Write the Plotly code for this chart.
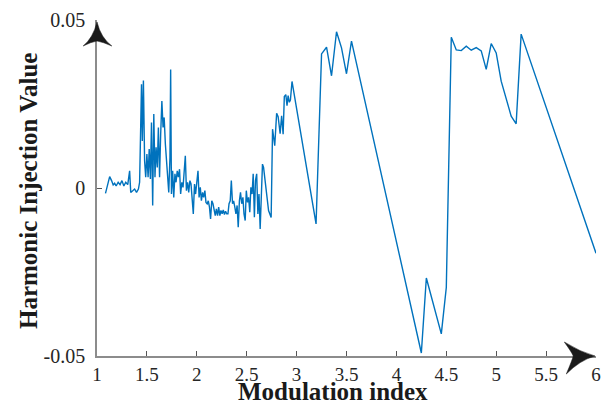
import plotly.graph_objects as go

# Modulation index sweep and the resulting harmonic injection value
modulation_index = [
    1.085, 1.100, 1.127, 1.146, 1.162, 1.177, 1.192, 1.212, 1.231, 1.250,
    1.269, 1.288, 1.308, 1.327, 1.338, 1.358, 1.377, 1.396, 1.415, 1.427,
    1.438, 1.446, 1.454, 1.465, 1.477, 1.488, 1.500, 1.512, 1.523, 1.535,
    1.546, 1.558, 1.569, 1.581, 1.592, 1.604, 1.615, 1.627, 1.638, 1.650,
    1.662, 1.673, 1.685, 1.696, 1.708, 1.719, 1.731, 1.738, 1.746, 1.758,
    1.769, 1.781, 1.792, 1.804, 1.815, 1.827, 1.838, 1.850, 1.862, 1.873,
    1.885, 1.896, 1.908, 1.919, 1.931, 1.942, 1.954, 1.965, 1.977, 1.988,
    2.000, 2.012, 2.023, 2.035, 2.046, 2.058, 2.069, 2.081, 2.092, 2.104,
    2.115, 2.127, 2.138, 2.150, 2.162, 2.173, 2.185, 2.196, 2.208, 2.219,
    2.231, 2.242, 2.254, 2.265, 2.277, 2.288, 2.300, 2.312, 2.323, 2.335,
    2.346, 2.358, 2.369, 2.381, 2.392, 2.404, 2.415, 2.427, 2.438, 2.450,
    2.462, 2.473, 2.485, 2.496, 2.508, 2.519, 2.531, 2.542, 2.554, 2.565,
    2.577, 2.588, 2.600, 2.612, 2.623, 2.635, 2.646, 2.658, 2.669, 2.692,
    2.719, 2.745, 2.759, 2.781, 2.800, 2.815, 2.835, 2.850, 2.865, 2.877,
    2.892, 2.904, 2.915, 2.927, 2.938, 2.954,
    3.195, 3.250, 3.300, 3.350, 3.400, 3.450, 3.500, 3.550,
    4.250, 4.300, 4.450, 4.500, 4.550, 4.600, 4.650, 4.700, 4.750, 4.800,
    4.850, 4.900, 4.950, 5.000, 5.050, 5.150, 5.200, 5.250, 6.000,
]

injection_value = [
    -0.0016, 0.0002, 0.0034, 0.0022, 0.0009, 0.0014, 0.0006, 0.0017, 0.0010, 0.0022,
    0.0006, 0.0017, 0.0010, 0.0051, -0.0013, -0.0008, -0.0003, -0.0013, -0.0003, 0.0017,
    0.0249, 0.0309, 0.0140, 0.0320, 0.0081, 0.0032, 0.0101, 0.0032, 0.0116, 0.0027,
    0.0195, -0.0052, 0.0220, 0.0032, 0.0121, 0.0061, 0.0180, 0.0032, 0.0160, 0.0259,
    0.0180, 0.0210, 0.0131, 0.0081, 0.0022, -0.0013, 0.0091, 0.0353, -0.0018, 0.0051,
    -0.0028, 0.0042, 0.0017, 0.0051, 0.0032, 0.0056, -0.0018, 0.0017, 0.0002, 0.0042,
    0.0096, -0.0008, 0.0017, -0.0013, 0.0022, 0.0012, -0.0028, -0.0077, 0.0012, -0.0018,
    0.0017, 0.0051, -0.0028, 0.0002, -0.0038, -0.0013, -0.0028, -0.0008, -0.0043, -0.0047,
    -0.0038, -0.0057, -0.0092, -0.0038, -0.0047, -0.0067, -0.0082, -0.0062, -0.0082, -0.0057,
    -0.0082, -0.0067, -0.0077, -0.0065, -0.0079, -0.0069, -0.0077, -0.0077, -0.0047, -0.0038,
    0.0022, -0.0047, -0.0038, -0.0057, -0.0077, -0.0052, -0.0117, -0.0038, -0.0013, -0.0047,
    -0.0028, -0.0077, -0.0097, -0.0008, -0.0043, -0.0028, -0.0072, 0.0002, -0.0018, 0.0042,
    -0.0087, 0.0022, 0.0042, -0.0077, -0.0018, -0.0122, 0.0002, 0.0071, 0.0061, 0.0002,
    -0.0067, -0.0088, 0.0175, 0.0126, 0.0222, 0.0212, 0.0162, 0.0215, 0.0160, 0.0272,
    0.0278, 0.0245, 0.0275, 0.0255, 0.0262, 0.0317,
    -0.0107, 0.0399, 0.0419, 0.0334, 0.0465, 0.0417, 0.0340, 0.0437,
    -0.0491, -0.0268, -0.0434, -0.0296, 0.0449, 0.0411, 0.0409, 0.0422, 0.0410, 0.0418,
    0.0408, 0.0353, 0.0430, 0.0402, 0.0318, 0.0214, 0.0191, 0.0458, -0.0194,
]

x_tick_values = [1, 1.5, 2, 2.5, 3, 3.5, 4, 4.5, 5, 5.5, 6]
x_tick_labels = ["1", "1.5", "2", "2.5", "3", "3.5", "4", "4.5", "5", "5.5", "6"]
y_tick_values = [-0.05, 0, 0.05]
y_tick_labels = ["-0.05", "0", "0.05"]

SERIF = "Liberation Serif, Times New Roman, serif"
AXIS_GREY = "#8c8c8c"

fig = go.Figure()
fig.add_trace(go.Scatter(
    x=modulation_index, y=injection_value, mode="lines",
    line=dict(color="#0072BD", width=1.4), showlegend=False,
))

# plot area size in pixels, used to convert arrowhead offsets to paper units
W, H = 504, 336
def px(dx):
    return dx / W
def py(dy):
    return dy / H

# arrowhead on the y axis (pointing up), concave sides and a shallow notch
y_arrow = (
    f"M 0 {1 - py(2)} "
    f"Q {px(-4)} {1 - py(18)} {px(-14)} {1 - py(26)} "
    f"Q {px(-6)} {1 - py(22)} 0 {1 - py(21)} "
    f"Q {px(6)} {1 - py(22)} {px(15)} {1 - py(26)} "
    f"Q {px(4)} {1 - py(18)} 0 {1 - py(2)} Z"
)

# arrowhead on the x axis (pointing right)
x_arrow = (
    f"M {1 - px(1)} 0 "
    f"Q {1 - px(16)} {py(4)} {1 - px(32)} {py(14)} "
    f"Q {1 - px(24)} {py(3)} {1 - px(23)} 0 "
    f"Q {1 - px(24)} {py(-4)} {1 - px(30)} {py(-18)} "
    f"Q {1 - px(16)} {py(-4)} {1 - px(1)} 0 Z"
)

for path in (y_arrow, x_arrow):
    fig.add_shape(type="path", path=path, xref="paper", yref="paper",
                  fillcolor="#1a1a1a", line=dict(color="#1a1a1a", width=0.5),
                  layer="above")

fig.add_annotation(text="<b>Modulation index</b>", xref="paper", yref="paper",
                   x=0.472, y=-0.105, xanchor="center", yanchor="middle",
                   showarrow=False, font=dict(family=SERIF, size=25, color="#1a1a1a"))
fig.add_annotation(text="<b>Harmonic Injection Value</b>", xref="paper", yref="paper",
                   x=-0.137, y=0.49, xanchor="center", yanchor="middle", textangle=-90,
                   showarrow=False, font=dict(family=SERIF, size=25, color="#1a1a1a"))

fig.update_xaxes(
    range=[1, 6], tickvals=x_tick_values, ticktext=x_tick_labels,
    showline=True, linecolor=AXIS_GREY, linewidth=1.5,
    ticks="inside", ticklen=5, tickcolor="#555555", tickwidth=1,
    showgrid=False, zeroline=False,
    tickfont=dict(family=SERIF, size=19, color="#262626"),
)
fig.update_yaxes(
    range=[-0.05, 0.05], tickvals=y_tick_values, ticktext=y_tick_labels,
    showline=True, linecolor=AXIS_GREY, linewidth=1.5,
    ticks="inside", ticklen=5, tickcolor="#555555", tickwidth=1,
    showgrid=False, zeroline=False, ticklabelstandoff=6,
    tickfont=dict(family=SERIF, size=20, color="#262626"),
)

fig.update_layout(
    width=608, height=405,
    margin=dict(l=97, r=7, t=20, b=49),
    paper_bgcolor="white", plot_bgcolor="white",
)

fig.write_html("out.html")
